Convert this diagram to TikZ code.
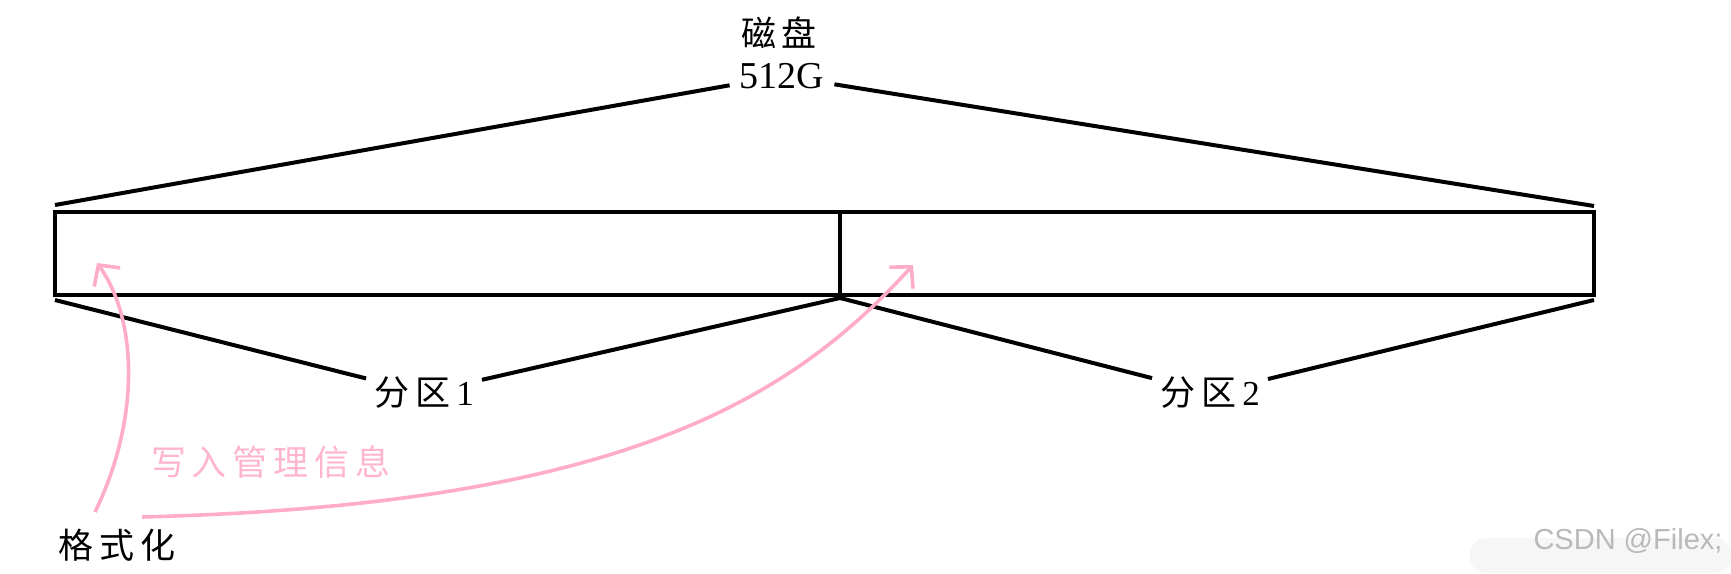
\documentclass[tikz,border=0pt]{standalone}
\usepackage{fontspec}
\setmainfont{Liberation Serif}
\newfontfamily\cjk{Noto Sans CJK SC}
\newfontfamily\wmfont{Liberation Sans}
\usetikzlibrary{arrows.meta,positioning}
\definecolor{penpink}{RGB}{255,172,200}
\definecolor{inkpink}{RGB}{255,182,205}
\newcommand{\cjgap}{\hspace{6pt}}

\begin{document}
\begin{tikzpicture}[x=1pt, y=-1pt,
  part/.style={rectangle, draw, line width=4pt, minimum height=83pt, inner sep=0pt},
  lbl/.style={inner sep=8pt, font=\fontsize{35}{38}\selectfont},
  edge/.style={line width=4pt},
  pen/.style={draw=penpink, line width=3.6pt, -{Straight Barb[length=15pt, width=32pt]}}
]
\useasboundingbox (0,0) rectangle (1731,573);

% disk split into two partitions
\node[part, minimum width=785pt] (part1) at (447.5,253.5) {};
\node[part, minimum width=754pt] (part2) at (1217,253.5) {};

% labels
\node[lbl, inner sep=2pt] (disk) at (779,33) {\cjk 磁\cjgap 盘};
\node[lbl, font=\fontsize{38}{40}\selectfont, inner sep=10pt] (size) at (782,76) {512G};
\node[lbl] (name1) at (424,393) {{\cjk 分\cjgap 区}\cjgap 1};
\node[lbl] (name2) at (1210,393) {{\cjk 分\cjgap 区}\cjgap 2};
\node[lbl, inner sep=2pt] (format) at (117,545) {\cjk 格\cjgap 式\cjgap 化};
\node[lbl, text=inkpink, inner sep=2pt] (write) at (271,462) {\cjk 写\cjgap 入\cjgap 管\cjgap 理\cjgap 信\cjgap 息};

% end points of the brackets
\coordinate (topl) at (55,205);
\coordinate (topr) at (1594,206);
\coordinate (botl) at (55,300);
\coordinate (botm) at (840,298);
\coordinate (botr) at (1594,300);
\coordinate (from1) at (95,512);
\coordinate (from2) at (142,517);
\coordinate (to1) at (97,263);
\coordinate (to2) at (913,265);

% brackets
\draw[edge] (topl) -- (size);
\draw[edge] (size) -- (topr);
\draw[edge] (botl) -- (name1);
\draw[edge] (name1) -- (botm);
\draw[edge] (botm) -- (name2);
\draw[edge] (name2) -- (botr);

% pink pen arrows
\draw[pen] (from1) .. controls (140,420) and (138,320) .. (to1);
\draw[pen] (from2) .. controls (620,505) and (790,400) .. (to2);

% watermark
\fill[gray!7, rounded corners=16pt] (1470,538) rectangle (1731,573);
\node[text=gray!55, font=\wmfont\fontsize{29}{30}\selectfont, inner sep=0pt] (mark) at (1628,541) {CSDN @Filex;};
\end{tikzpicture}
\end{document}
